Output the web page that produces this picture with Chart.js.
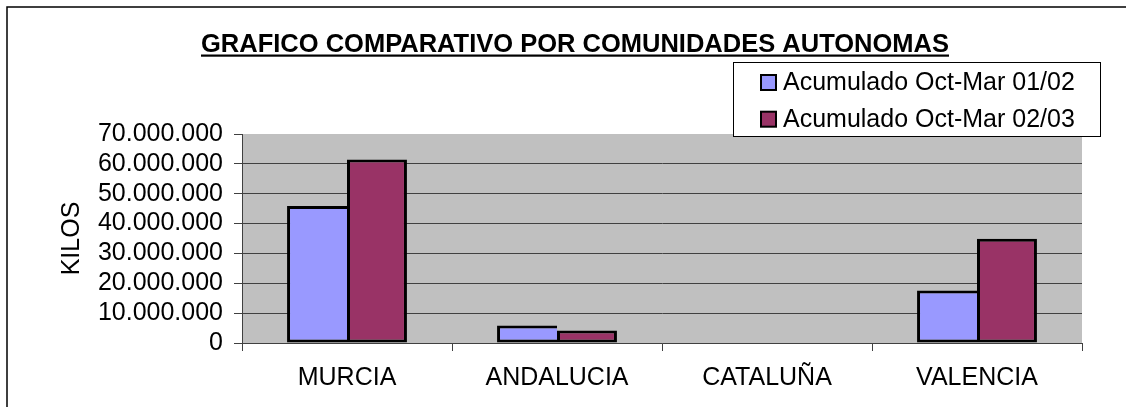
<!DOCTYPE html>
<html>
<head>
<meta charset="utf-8">
<script src="https://cdn.jsdelivr.net/npm/chart.js@4.4.0/dist/chart.umd.min.js"></script>
<style>
  body { margin: 0; background: #fff; }
  canvas { display: block; }
</style>
</head>
<body>
<canvas id="chart" width="1126" height="407"></canvas>
<script>
// chart data
const chartTitle = 'GRAFICO COMPARATIVO POR COMUNIDADES AUTONOMAS';
const axisTitle = 'KILOS';
const comunidades = ['MURCIA', 'ANDALUCIA', 'CATALUÑA', 'VALENCIA'];
const seriesLabels = ['Acumulado Oct-Mar 01/02', 'Acumulado Oct-Mar 02/03'];
const kilos0102 = [45900000, 5900000, null, 17600000];
const kilos0203 = [61500000, 4200000, null, 34900000];
const yMax = 70000000;
const yStep = 10000000;

const FONT = '"Liberation Sans", Arial, sans-serif';
Chart.defaults.font.family = FONT;

// 70000000 -> 70.000.000
function formatKilos(v) {
    return String(Math.round(v)).replace(/\B(?=(\d{3})+(?!\d))/g, '.');
}

// white page, left/top frame and grey plot area
const plotBackground = {
    id: 'plotBackground',
    beforeDraw(chart) {
        const { ctx, chartArea: a } = chart;
        ctx.save();
        ctx.fillStyle = '#fff';
        ctx.fillRect(0, 0, chart.width, chart.height);
        ctx.fillStyle = '#C0C0C0';
        ctx.fillRect(a.left, a.top, a.right - a.left, a.bottom - a.top);
        ctx.strokeStyle = '#000';
        ctx.lineWidth = 1.5;
        ctx.beginPath();
        ctx.moveTo(7, chart.height);
        ctx.lineTo(7, 7);
        ctx.lineTo(chart.width, 7);
        ctx.stroke();
        ctx.restore();
    }
};

// underlined title and the boxed legend that sits over the plot
const titleAndLegend = {
    id: 'titleAndLegend',
    afterDraw(chart) {
        const ctx = chart.ctx;
        ctx.save();

        ctx.font = 'bold 25.5px ' + FONT;
        ctx.fillStyle = '#000';
        ctx.textAlign = 'center';
        ctx.textBaseline = 'alphabetic';
        const cx = 575;
        ctx.fillText(chartTitle, cx, 52);
        const w = ctx.measureText(chartTitle).width;
        ctx.fillRect(cx - w / 2, 54.5, w, 2.2);

        ctx.fillStyle = '#fff';
        ctx.fillRect(733.5, 62.5, 367, 74);
        ctx.strokeStyle = '#000';
        ctx.lineWidth = 1;
        ctx.strokeRect(733.5, 62.5, 367, 74);

        ctx.font = '25px ' + FONT;
        ctx.textAlign = 'left';
        chart.data.datasets.forEach((ds, i) => {
            const base = 90 + i * 36.7;
            ctx.fillStyle = ds.backgroundColor;
            ctx.fillRect(761, base - 15, 15, 15);
            ctx.lineWidth = 2;
            ctx.strokeStyle = '#000';
            ctx.strokeRect(761, base - 15, 15, 15);
            ctx.fillStyle = '#000';
            ctx.fillText(ds.label, 783, base);
        });
        ctx.restore();
    }
};

const ctx = document.getElementById('chart').getContext('2d');
new Chart(ctx, {
    type: 'bar',
    data: {
        labels: comunidades,
        datasets: [
            {
                label: seriesLabels[0],
                data: kilos0102,
                backgroundColor: '#9999FF',
                borderColor: '#000',
                // right edge is shared with the neighbouring bar
                borderWidth: { top: 3, left: 3, bottom: 3, right: 0 },
                borderSkipped: false
            },
            {
                label: seriesLabels[1],
                data: kilos0203,
                backgroundColor: '#993366',
                borderColor: '#000',
                borderWidth: 3,
                borderSkipped: false
            }
        ]
    },
    options: {
        responsive: false,
        animation: false,
        barPercentage: 1,
        categoryPercentage: 0.571,
        layout: { padding: { left: 50, top: 134, right: 44, bottom: 0 } },
        plugins: {
            legend: { display: false },
            title: { display: false },
            tooltip: { enabled: false }
        },
        scales: {
            x: {
                grid: { offset: true, drawOnChartArea: false, color: '#404040', tickLength: 8 },
                border: { color: '#404040' },
                ticks: { color: '#000', font: { size: 25 }, padding: 12, maxRotation: 0 },
                afterFit(scale) { scale.height = 64; }
            },
            y: {
                min: 0,
                max: yMax,
                ticks: {
                    stepSize: yStep,
                    autoSkip: false,
                    color: '#000',
                    font: { size: 25 },
                    padding: 11,
                    callback: v => formatKilos(v)
                },
                grid: {
                    color: c => (c.tick && c.tick.value === yMax) ? 'rgba(0,0,0,0)' : '#404040',
                    tickColor: '#404040',
                    tickLength: 8
                },
                border: { color: '#404040' },
                title: {
                    display: true,
                    text: axisTitle,
                    color: '#000',
                    font: { size: 25 },
                    padding: { top: 7, bottom: 0 }
                },
                afterFit(scale) { scale.width = 192; }
            }
        }
    },
    plugins: [plotBackground, titleAndLegend]
});
</script>
</body>
</html>
